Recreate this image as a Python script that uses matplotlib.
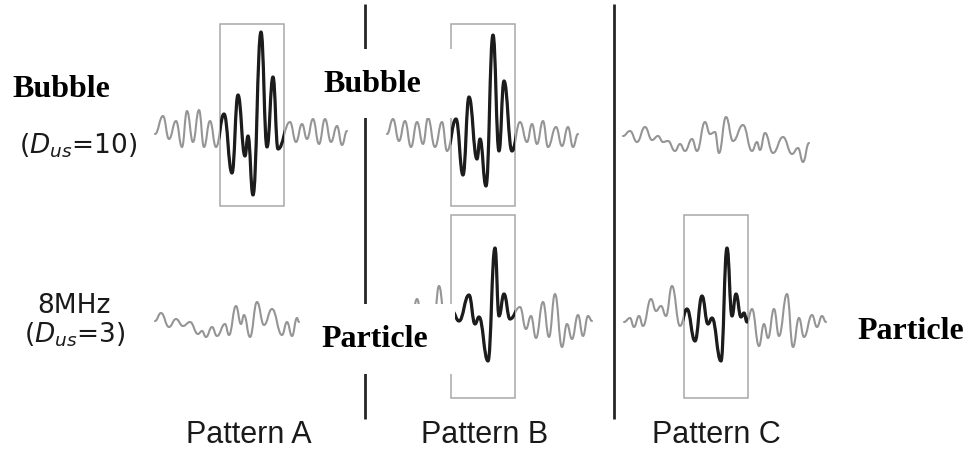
import matplotlib
matplotlib.use('Agg')
import matplotlib.pyplot as plt
from matplotlib.path import Path
from matplotlib.patches import PathPatch, Rectangle

plt.rcParams['mathtext.fontset'] = 'custom'
plt.rcParams['mathtext.rm'] = 'DejaVu Sans'
plt.rcParams['mathtext.it'] = 'DejaVu Sans:italic'

# echo traces: extrema along each trace (t = offset along trace, amp = height, px)
bubble_a_t = [0, 8, 14, 21, 27, 32, 38, 44, 49, 55, 61, 69, 77, 83, 90, 93, 98, 106, 112, 118, 123,
              135, 141, 147, 152, 158, 164, 170, 176, 182, 187, 192]
bubble_a_amp = [0, 18, -5, 13, -13, 23, -8, 24, -13, 13, -13, 20, -39, 39, -22, -2, -61, 102, -13, 57, -15,
                12, -8, 10, -5, 15, -10, 15, -8, 8, -11, 3]

bubble_b_t = [0, 6, 12, 18, 24, 30, 36, 41, 48, 55, 60, 69, 76, 82, 90, 93, 99, 106, 112, 117, 125,
              133, 140, 145, 150, 156, 161, 169, 175, 181, 186, 191]
bubble_b_amp = [0, 15, -7, 13, -13, 12, -10, 16, -13, 12, -17, 15, -41, 37, -25, -5, -52, 99, -17, 53, -17,
                12, -8, 10, -10, 13, -13, 7, -12, 7, -13, 0]

bubble_c_t = [0, 7, 14, 22, 29, 35, 40, 45, 52, 57, 62, 69, 74, 82, 87, 92, 96, 103, 110, 120, 129,
              134, 137, 142, 150, 160, 169, 175, 180, 186]
bubble_c_amp = [-2, 3, -8, 7, -6, -2, -8, -7, -17, -10, -17, -5, -17, 12, 0, 2, -19, 17, -7, 9, -17,
                -8, -16, 1, -19, -3, -20, -14, -28, -9]

particle_a_t = [0, 6, 14, 21, 28, 35, 43, 47, 51, 57, 62, 70, 74, 81, 86, 89, 95, 102, 109, 117, 127,
                132, 137, 142, 144]
particle_a_amp = [-1, 7, -7, 1, -6, -2, -14, -11, -17, -7, -16, -4, -15, 14, -4, 5, -17, 18, -5, 11, -15,
                  -2, -16, 2, -2]

particle_b_t = [0, 5, 11, 16, 21, 27, 34, 40, 47, 57, 63, 67, 76, 83, 87, 92, 98, 108, 114, 119, 124,
                131, 137, 143, 150, 155, 160, 166, 171, 176, 180]
particle_b_amp = [3, 21, -9, 15, -14, 34, -14, 9, -1, 25, -4, 3, -41, 72, 4, 26, 1, 13, -9, 4, -18,
                  18, -17, 26, -27, -4, -19, 5, -16, 4, -1]

particle_c_t = [0, 6, 10, 15, 19, 27, 32, 37, 42, 48, 56, 63, 71, 78, 84, 88, 97, 103, 108, 112, 117,
                120, 123, 128, 135, 140, 144, 150, 155, 163, 169, 175, 180, 188, 193, 198, 202]
particle_c_amp = [-2, 2, -7, 4, -6, 21, 9, 14, 4, 34, -6, 11, -21, 24, -4, 2, -41, 72, 4, 26, 3,
                  7, -2, 11, -26, -4, -18, 11, -16, 26, -27, 2, -17, 5, -7, 4, -2]

row_labels = ['Bubble', 'Particle']
pattern_labels = ['Pattern A', 'Pattern B', 'Pattern C']

fig = plt.figure(figsize=(9.68, 4.52), dpi=100)
ax = fig.add_axes([0, 0, 1, 1])
ax.set_xlim(0, 968)
ax.set_ylim(452, 0)
ax.axis('off')


def trace_path(t, amp, x0, y0):
    # smooth curve through the extrema, flat at every turning point
    xs = [x0 + v for v in t]
    ys = [y0 - v for v in amp]
    verts = [(xs[0], ys[0])]
    codes = [Path.MOVETO]
    for i in range(1, len(xs)):
        h = (xs[i] - xs[i - 1]) * 0.45
        verts += [(xs[i - 1] + h, ys[i - 1]), (xs[i] - h, ys[i]), (xs[i], ys[i])]
        codes += [Path.CURVE4] * 3
    return Path(verts, codes)


def draw_trace(t, amp, x0, y0, box=None):
    p = trace_path(t, amp, x0, y0)
    ax.add_patch(PathPatch(p, fill=False, ec='#959595', lw=1.5, capstyle='round', joinstyle='round'))
    if box is not None:
        r = Rectangle((box[0], box[1]), box[2], box[3], fill=False, ec='#a8a8a8', lw=1.1)
        ax.add_patch(r)
        blk = PathPatch(p, fill=False, ec='#1c1c1c', lw=2.3, capstyle='round', joinstyle='round')
        ax.add_patch(blk)
        blk.set_clip_path(r)


top_y = 135
bot_y = 321
draw_trace(bubble_a_t, bubble_a_amp, 155, top_y, (220, 25, 64, 182))
draw_trace(bubble_b_t, bubble_b_amp, 387, top_y, (451, 25, 64, 182))
draw_trace(bubble_c_t, bubble_c_amp, 623, top_y)
draw_trace(particle_a_t, particle_a_amp, 155, bot_y)
draw_trace(particle_b_t, particle_b_amp, 412, bot_y, (451, 216, 64, 183))
draw_trace(particle_c_t, particle_c_amp, 624, bot_y, (684, 216, 64, 183))

# separators
for xv in [365, 614]:
    ax.plot([xv, xv], [5, 420], color='#262626', lw=2.0, solid_capstyle='butt')

serif = dict(family='Liberation Serif', fontweight='bold', fontsize=23, va='baseline', ha='left', zorder=6)
ax.add_patch(Rectangle((318, 50), 135, 69, fc='white', ec='none', zorder=5))
ax.add_patch(Rectangle((312, 305), 143, 70, fc='white', ec='none', zorder=5))
ax.text(12, 97, row_labels[0], **serif)
ax.text(323, 91.5, row_labels[0], **serif)
ax.text(321, 347, row_labels[1], **serif)
ax.text(857, 339, row_labels[1], **serif)

sans = dict(family='DejaVu Sans', color='#1a1a1a', va='baseline', ha='center')
ax.text(78.5, 153.5, r'($\mathit{D}_{\mathit{us}}$=10)', fontsize=19, **sans)
ax.text(74, 313, '8MHz', fontsize=19, **sans)
ax.text(75, 343, r'($\mathit{D}_{\mathit{us}}$=3)', fontsize=19, **sans)

for xc, lab in zip([249, 485, 716], pattern_labels):
    ax.text(xc, 443, lab, fontsize=22, family='Liberation Sans', color='#1a1a1a', va='baseline', ha='center')

fig.savefig('out.png', dpi=100)
